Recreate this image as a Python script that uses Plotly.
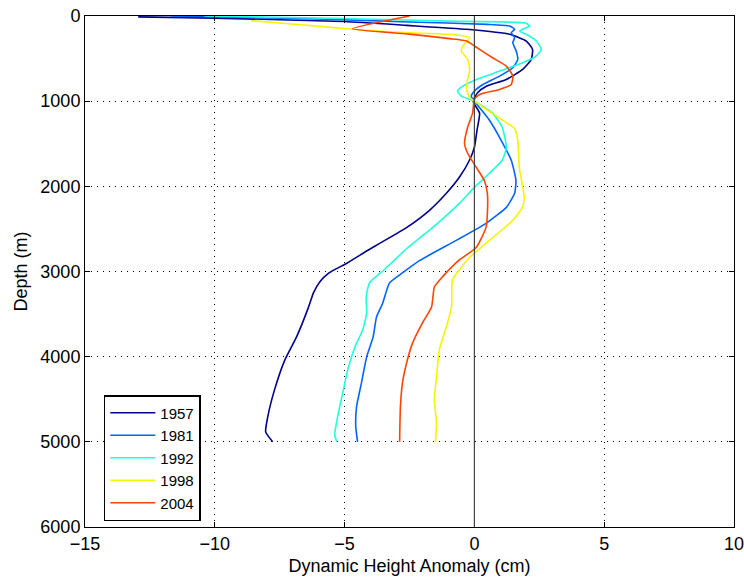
import plotly.graph_objects as go

years = ["1957", "1981", "1992", "1998", "2004"]
colors = ["#00008C", "#0064FF", "#22FFDD", "#F5F500", "#FF4500"]

depth_1957 = [10, 25, 65, 110, 156, 215, 294, 392, 509, 627, 745, 824, 898, 1000, 1141, 1341, 1541, 1694, 1894, 2082, 2282, 2482, 2670, 2750, 2900, 3016, 3122, 3251, 3427, 3768, 4037, 4390, 4706, 4883, 5000]
dha_1957 = [-12.95, -10.0, -5.0, -2.6, -0.3, 1.36, 2.0, 2.24, 2.19, 1.86, 1.23, 0.46, 0.13, -0.05, 0.2, 0.1, 0.0, -0.19, -0.58, -1.08, -1.73, -2.6, -3.65, -4.1, -4.9, -5.6, -5.96, -6.2, -6.4, -6.85, -7.3, -7.7, -7.96, -8.04, -7.77]

depth_1981 = [0, 35, 70, 98, 118, 156, 195, 254, 313, 412, 509, 607, 706, 804, 882, 941, 1000, 1224, 1459, 1694, 1929, 2082, 2247, 2435, 2635, 2870, 3016, 3134, 3369, 3533, 3768, 4002, 4307, 4589, 4824, 5000]
dha_1981 = [-11.7, -6.0, -2.5, 0.5, 1.36, 1.55, 1.42, 1.55, 1.48, 1.61, 1.67, 1.48, 0.97, 0.33, 0.0, -0.12, 0.0, 0.58, 1.03, 1.42, 1.6, 1.55, 1.23, 0.45, -0.7, -2.1, -2.77, -3.27, -3.53, -3.77, -3.9, -4.15, -4.35, -4.54, -4.57, -4.5]

depth_1992 = [0, 30, 60, 85, 118, 176, 215, 294, 392, 470, 548, 647, 745, 824, 882, 941, 1000, 1141, 1306, 1541, 1694, 1847, 2012, 2200, 2482, 2730, 2985, 3134, 3298, 3486, 3685, 3885, 4155, 4425, 4706, 4918, 5000]
dha_1992 = [-10.4, -5.0, -1.0, 2.0, 2.13, 1.74, 2.0, 2.38, 2.58, 2.38, 1.86, 0.97, 0.08, -0.45, -0.65, -0.5, 0.0, 0.7, 1.07, 1.23, 1.07, 0.58, 0.0, -0.58, -1.6, -2.6, -3.5, -4.04, -4.17, -4.15, -4.3, -4.6, -4.88, -5.07, -5.27, -5.38, -5.3]

depth_1998 = [55, 100, 155, 195, 215, 254, 353, 412, 509, 627, 745, 862, 960, 1000, 1200, 1318, 1459, 1776, 2129, 2247, 2400, 2635, 2835, 2981, 3099, 3416, 3650, 3920, 4237, 4507, 4777, 5000]
dha_1998 = [-8.6, -6.8, -4.7, -2.7, -0.95, -0.18, -0.45, -0.5, -0.26, -0.18, -0.26, -0.3, -0.18, 0.0, 0.96, 1.54, 1.67, 1.73, 1.92, 1.85, 1.48, 0.58, -0.19, -0.58, -0.85, -0.88, -1.08, -1.35, -1.46, -1.54, -1.46, -1.5]

depth_2004 = [0, 150, 210, 266, 294, 392, 490, 588, 706, 804, 862, 921, 980, 1141, 1306, 1494, 1612, 1776, 1929, 2082, 2318, 2482, 2717, 2864, 3063, 3181, 3416, 3603, 3838, 4037, 4307, 4589, 5000]
dha_2004 = [-2.5, -4.7, -2.6, -0.95, -0.3, 0.2, 0.7, 1.23, 1.48, 1.42, 0.97, 0.2, 0.0, -0.07, -0.26, -0.38, -0.26, 0.07, 0.38, 0.5, 0.5, 0.45, 0.07, -0.58, -1.23, -1.54, -1.65, -2.0, -2.38, -2.58, -2.77, -2.85, -2.88]

series = [
    (dha_1957, depth_1957),
    (dha_1981, depth_1981),
    (dha_1992, depth_1992),
    (dha_1998, depth_1998),
    (dha_2004, depth_2004),
]

x_ticks = [-15, -10, -5, 0, 5, 10]
y_ticks = [0, 1000, 2000, 3000, 4000, 5000, 6000]

fig = go.Figure()
for name, col, (xs, ys) in zip(years, colors, series):
    fig.add_trace(go.Scatter(x=xs, y=ys, mode="lines", name=name,
                             line=dict(color=col, width=1.6, shape="spline", smoothing=0.5)))

fig.add_vline(x=0, line=dict(color="#444444", width=1.2))

font = "Liberation Sans, Arial, Helvetica, sans-serif"
axis_common = dict(
    showline=True, linecolor="black", linewidth=1, mirror="ticks",
    ticks="inside", ticklen=5, tickcolor="black",
    showgrid=True, gridcolor="black", gridwidth=1, griddash="1px,5px",
    zeroline=False, tickfont=dict(size=18, color="black", family=font),
    automargin=False, ticklabeloverflow="allow",
)

fig.update_xaxes(range=[-15, 10], tickvals=x_ticks,
                 title=dict(text="Dynamic Height Anomaly (cm)", font=dict(size=18, family=font, color="black"), standoff=6),
                 **axis_common)
fig.update_yaxes(range=[6000, 0], tickvals=y_ticks,
                 title=dict(text="Depth (m)", font=dict(size=18, family=font, color="black"), standoff=8),
                 **axis_common)

fig.update_layout(
    width=744, height=581,
    margin=dict(l=85, r=10, t=16, b=54, autoexpand=False),
    plot_bgcolor="white", paper_bgcolor="white",
    font=dict(family=font, color="black"),
    legend=dict(x=0.029, y=0.135, xanchor="left", yanchor="middle",
                bgcolor="white", bordercolor="black", borderwidth=1.5,
                font=dict(size=15, family=font, color="black"),
                tracegroupgap=0, itemwidth=45),
    showlegend=True,
)

fig.write_html("out.html")
